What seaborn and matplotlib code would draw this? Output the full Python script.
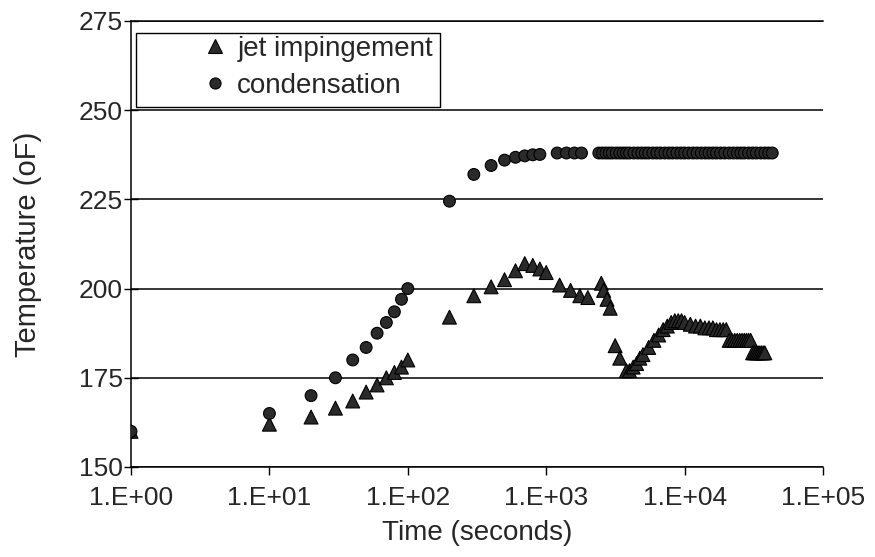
import matplotlib
matplotlib.use("Agg")
import matplotlib.pyplot as plt
import seaborn as sns
import pandas as pd
from matplotlib.lines import Line2D
from matplotlib.patches import Rectangle

# ---------------- data ----------------
jet_time = [1, 10, 20, 30, 40, 50, 60, 70, 80, 90, 100,
            200, 300, 400, 500, 600, 700, 800, 900, 1000,
            1250, 1500, 1750, 2000, 2500, 2600, 2750, 2900,
            3150, 3400, 3800, 4000, 4250, 4500, 4750, 5000,
            5500, 6000, 6500, 7000, 7500, 8000, 8500, 9000, 9500, 10000,
            11000, 12000, 13000, 14000, 15000, 16000, 17000, 18000, 19000, 20000,
            21000, 22000, 23000, 24000, 25000, 26000, 27000, 28000, 29000, 30000,
            31000, 32000, 33000, 34000, 35000, 36000, 37000, 38000]
jet_temp = [160, 162, 164, 166.5, 168.5, 171, 173, 175, 176.5, 178, 180,
            192, 198, 200.5, 202.5, 205, 207, 206.5, 205.5, 204.5,
            201, 199.5, 198, 197.5, 201.5, 199.5, 197, 194.5,
            184, 180.5, 177, 177, 178, 179, 180.5, 181.5,
            183.5, 185.5, 187, 188.5, 189.5, 190.5, 191, 191, 191, 190.5,
            190, 189.5, 189.5, 189, 189, 189, 188.5, 188.5, 188.5, 188.5,
            185.5, 185.5, 185.5, 185.5, 185.5, 185.5, 185.5, 185.5, 185.5, 185.5,
            182, 182, 182, 182, 182, 182, 182, 182]

cond_time = [1, 10, 20, 30, 40, 50, 60, 70, 80, 90, 100,
             200, 300, 400, 500, 600, 700, 800, 900,
             1200, 1400, 1600, 1800,
             2400, 2550, 2700, 2850, 3000, 3200, 3400, 3600, 3800, 4000,
             4300, 4600, 4900, 5200, 5500, 5900, 6300, 6700, 7200, 7700,
             8200, 8800, 9400, 10000, 10700, 11500, 12300, 13200, 14100, 15000,
             16000, 17000, 18200, 19500, 21000, 22500, 24000, 25500, 27000, 29000,
             31000, 33000, 35500, 38000, 40500, 43000]
cond_temp = [160, 165, 170, 175, 180, 183.5, 187.5, 190.5, 193.5, 197, 200,
             224.5, 232, 234.5, 236, 236.8, 237.2, 237.5, 237.6,
             238, 238, 238, 238,
             238, 238, 238, 238, 238, 238, 238, 238, 238, 238,
             238, 238, 238, 238, 238, 238, 238, 238, 238, 238,
             238, 238, 238, 238, 238, 238, 238, 238, 238, 238,
             238, 238, 238, 238, 238, 238, 238, 238, 238, 238,
             238, 238, 238, 238, 238, 238]

series_names = ["jet impingement", "condensation"]
x_ticks = [1, 10, 100, 1000, 10000, 100000]
x_tick_labels = ["1.E+00", "1.E+01", "1.E+02", "1.E+03", "1.E+04", "1.E+05"]
y_ticks = [150, 175, 200, 225, 250, 275]

df = pd.concat([
    pd.DataFrame({"time": jet_time, "temp": jet_temp, "series": series_names[0]}),
    pd.DataFrame({"time": cond_time, "temp": cond_temp, "series": series_names[1]}),
], ignore_index=True)

# ---------------- style ----------------
sns.set_theme(style="white")
plt.rcParams["font.family"] = ["Liberation Sans", "DejaVu Sans"]

W, H = 875, 557
fig = plt.figure(figsize=(W / 100, H / 100), dpi=100)
L, R, T, B = 131, 823, 21, 467
ax = fig.add_axes([L / W, (H - B) / H, (R - L) / W, (B - T) / H])

mark_fill = "#2a2a2a"
sns.scatterplot(data=df, x="time", y="temp", hue="series", style="series",
                size="series",
                sizes={series_names[0]: 100, series_names[1]: 72},
                markers={series_names[0]: "^", series_names[1]: "o"},
                palette={series_names[0]: mark_fill, series_names[1]: mark_fill},
                edgecolor="black", linewidth=0.8, legend=False, ax=ax, zorder=3)

ax.set_xscale("log")
ax.set_xlim(1, 1e5)
ax.set_ylim(150, 275)
ax.set_xticks(x_ticks)
ax.set_xticklabels(x_tick_labels)
ax.xaxis.set_minor_locator(matplotlib.ticker.NullLocator())
ax.set_yticks(y_ticks)
ax.set_yticklabels([str(v) for v in y_ticks])

ax.yaxis.grid(True, color="black", linewidth=1.1)
ax.xaxis.grid(False)
ax.set_axisbelow(True)
for side in ["left", "bottom", "top"]:
    ax.spines[side].set_visible(True)
    ax.spines[side].set_color("black")
    ax.spines[side].set_linewidth(1.1)
ax.spines["right"].set_visible(False)

ax.tick_params(axis="x", direction="out", length=6, width=1, color="black",
               labelsize=19, pad=8, bottom=True)
ax.tick_params(axis="y", direction="inout", length=10, width=1, color="black",
               labelsize=19, pad=1, left=True)

ax.set_xlabel("Time (seconds)", fontsize=20)
ax.xaxis.set_label_coords(0.5, -0.118)
ax.set_ylabel("Temperature (oF)", fontsize=21)
ax.yaxis.set_label_coords(-0.128, 0.5)

# legend frame (manual box) + entries
def px2ax(px, py):
    return ((px - L) / (R - L), 1 - (py - T) / (B - T))

x0, y0 = px2ax(136, 107)
x1, y1 = px2ax(440, 33)
ax.add_patch(Rectangle((x0, y0), x1 - x0, y1 - y0, transform=ax.transAxes,
                       facecolor="white", edgecolor="black", linewidth=1.0,
                       zorder=4, clip_on=False))
handles = [
    Line2D([], [], marker="^", linestyle="none", markersize=9.5,
           markerfacecolor=mark_fill, markeredgecolor="black", markeredgewidth=0.8),
    Line2D([], [], marker="o", linestyle="none", markersize=8,
           markerfacecolor=mark_fill, markeredgecolor="black", markeredgewidth=0.8),
]
lx, ly = px2ax(204, 36)
leg = ax.legend(handles, series_names, loc="upper left", bbox_to_anchor=(lx, ly),
                frameon=False, fontsize=20, handlelength=0.8, handletextpad=0.4,
                borderpad=0, borderaxespad=0, labelspacing=0.4)
leg.set_zorder(5)

fig.savefig("out.png", dpi=100)
